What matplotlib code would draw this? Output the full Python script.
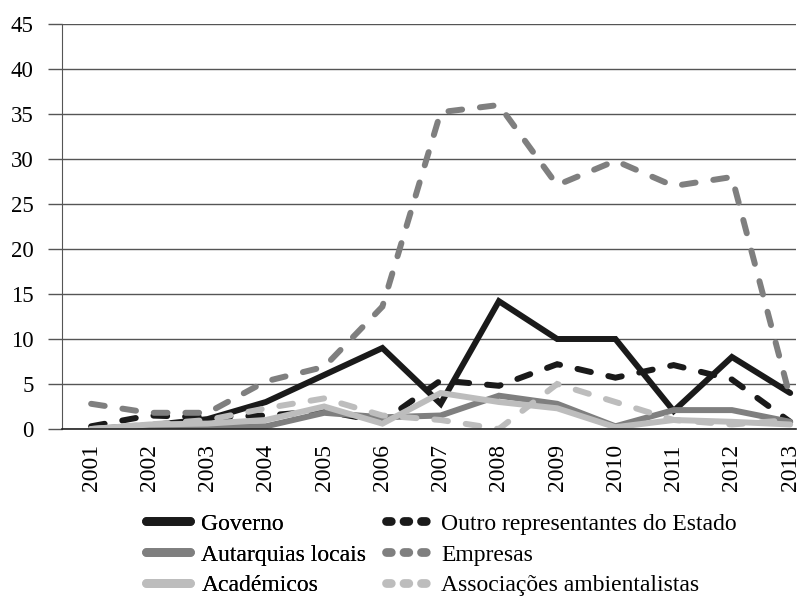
import matplotlib
matplotlib.use("Agg")
import matplotlib.pyplot as plt
from matplotlib.lines import Line2D
import numpy as np

years = ["2001", "2002", "2003", "2004", "2005", "2006", "2007",
         "2008", "2009", "2010", "2011", "2012", "2013"]

governo = [0, 0.4, 1.1, 3, 6, 9, 2.8, 14.2, 10, 10, 2, 8, 4]
outro = [0.3, 1.5, 1.3, 1.5, 2, 0.8, 5.4, 4.8, 7.2, 5.7, 7.1, 5.5, 0.8]
autarquias = [0, 0, 0.2, 0.3, 1.8, 1.3, 1.5, 3.7, 2.8, 0.3, 2.1, 2.1, 0.8]
empresas = [2.8, 1.8, 1.8, 5.3, 6.9, 13.6, 35.2, 36, 27.1, 29.8, 27, 28, 3.5]
academicos = [0, 0.5, 0.6, 1, 2.5, 0.6, 4, 3, 2.3, 0.2, 1, 0.8, 0.5]
associacoes = [0, 0.5, 1, 2.3, 3.4, 1.5, 1, 0, 5, 3, 1, 0.5, 1]

labels = ["Governo", "Outro representantes do Estado", "Autarquias locais",
          "Empresas", "Académicos", "Associações ambientalistas"]
yticks = [0, 5, 10, 15, 20, 25, 30, 35, 40, 45]

plt.rcParams['font.family'] = ['Liberation Serif', 'DejaVu Serif']

fig = plt.figure(figsize=(8.1, 6.0), dpi=100)
ax = fig.add_axes([62/810, 1-429/600, (796-62)/810, (429-24)/600])

x = np.arange(len(years))
black = "#1a1a1a"
mid = "#7f7f7f"
light = "#bdbdbd"
lw = 4.3
dash = (2.3, 3.0)

series = [
    (governo, black, "-"),
    (outro, black, "--"),
    (autarquias, mid, "-"),
    (empresas, mid, "--"),
    (academicos, light, "-"),
    (associacoes, light, "--"),
]
proxies = []
for (vals, col, ls), lab in zip(series, labels):
    if ls == "-":
        ax.plot(x, vals, color=col, lw=lw, solid_capstyle="round",
                solid_joinstyle="miter")
        proxies.append(Line2D([], [], color=col, lw=6.3,
                              solid_capstyle="round"))
    else:
        ax.plot(x, vals, color=col, lw=lw, dashes=dash,
                dash_capstyle="round", dash_joinstyle="miter")
        proxies.append(Line2D([], [], color=col, lw=6.3, dashes=(0.55, 1.45),
                              dash_capstyle="round"))

ax.set_xlim(-0.5, 12.1)
ax.set_ylim(0, 45)
ax.set_yticks(yticks)
ax.set_yticklabels([str(t) for t in yticks], fontsize=16.5)
ax.set_xticks(x)
ax.set_xticklabels(years, rotation=90, fontsize=17)
ax.tick_params(axis="x", length=0, pad=11)
ax.tick_params(axis="y", length=10, width=1, color="#555555", pad=10.5)
ax.grid(axis="y", color="#555555", lw=1)
ax.set_axisbelow(True)
for s in ["top", "right"]:
    ax.spines[s].set_visible(False)
ax.spines["left"].set_color("#555555")
ax.spines["bottom"].set_color("#222222")
ax.spines["bottom"].set_linewidth(1.2)

leg_kw = dict(loc="upper left", frameon=False, fontsize=17, handlelength=1.85,
              handletextpad=0.5, labelspacing=0.4, borderaxespad=0,
              borderpad=0)
col1 = [0, 2, 4]
col2 = [1, 3, 5]
leg1 = fig.legend([proxies[i] for i in col1], [labels[i] for i in col1],
                  bbox_to_anchor=(146/810, 1-513/600), **leg_kw)
fig.add_artist(leg1)
fig.legend([proxies[i] for i in col2], [labels[i] for i in col2],
           bbox_to_anchor=(386/810, 1-513/600), **leg_kw)

fig.savefig("out.png", dpi=100)
